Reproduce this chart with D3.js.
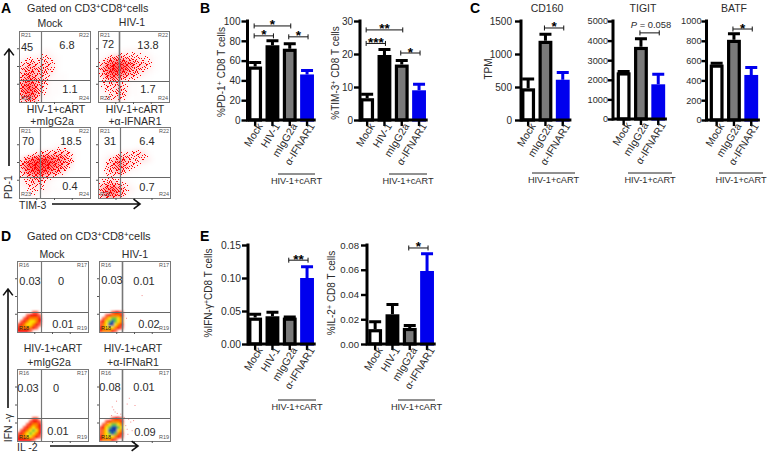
<!DOCTYPE html>
<html><head><meta charset="utf-8">
<style>html,body{margin:0;padding:0;background:#fff}svg{display:block}text{font-family:"Liberation Sans",Arial,sans-serif}</style>
<script src="https://cdnjs.cloudflare.com/ajax/libs/d3/7.8.5/d3.min.js"></script>
</head><body><svg id="c" width="768" height="454"></svg>
<script>
// ---------- data ----------
const cats4 = ["Mock","HIV-1","mIgG2a","α-IFNAR1"];
const cats3 = ["Mock","mIgG2a","α-IFNAR1"];
const pd1Values = [54,75.5,72,46];       const pd1Tops = [58,80,77,50];
const tim3Values = [6.6,19.7,16.8,9];    const tim3Tops = [7.8,21.4,18,10.8];
const cd160Values = [480,1200,610];      const cd160Tops = [620,1300,720];
const tigitValues = [2380,3680,1770];    const tigitTops = [2420,4100,2280];
const batfValues = [560,810,455];        const batfTops = [572,870,530];
const ifngValues = [.04,.042,.04,.1];    const ifngTops = [.045,.048,.041,.117];
const il2Values = [.012,.024,.013,.059]; const il2Tops = [.018,.032,.015,.073];
const pd1Ticks = [0,20,40,60,80,100];
const tim3Ticks = [0,10,20,30];
const cd160Ticks = [0,500,1000,1500];
const tigitTicks = [0,1000,2000,3000,4000,5000];
const batfTicks = [0,200,400,600,800,1000];
const ifngTicks = [0,.05,.1,.15];
const il2Ticks = [0,.02,.04,.06,.08];
// brackets: [fromCategory, toCategory, value, label]
const pd1Brackets = [[0,2,95,"*"],[0,1,85,"*"],[2,3,84,"*"]];
const tim3Brackets = [[0,2,27.3,"**"],[0,1,23.2,"***"],[2,3,20.3,"*"]];
const cd160Brackets = [[1,2,1394,"*"]];
const tigitBrackets = [[1,2,4394,""]];
const batfBrackets = [[1,2,919,"*"]];
const ifngBrackets = [[2,3,.127,"**"]];
const il2Brackets = [[2,3,.0776,"*"]];
// flow plots A: density read by eye, 12 columns x 12 rows (top row first), 0-9
const mockDensity = ["000000000000","000000000000","000000000000","000121000000","122232100000","344343100000","455443100000","465432110000","576431110000","687421100000","687321100000","466211000000"];
const hivDensity  = ["000000000000","000000000000","000000000000","000122221000","124543322100","368986443100","479985432100","368754321000","234321100000","233431100000","123431100000","123320100000"];
const cartDensity = ["000000000000","000000000000","000000000000","000001221000","002344553100","368998764100","589998753000","478986531000","234532110000","234321000000","123221100000","122110000000"];
const ifnarDensity= ["000000000000","000000000000","000000000000","000000110000","011233431000","124653332000","135753210000","134531100000","122100000000","345321000000","578632100000","467521000000"];
// flow plots D: colour level by cell in the lower-left corner, 8 columns
const dMockGrid = ["00000110","00012221","00123332","01234432","12344321","23333210","22221000"];
const dHivGrid  = ["00001221","00123332","01345543","12456543","13466432","23444321","23332100"];
const dCartGrid = ["00000110","00001221","00012332","00123432","01234542","12345432","23344321","22222100"];
const dIfnarGrid= ["00001221","00123332","01345543","12456654","13466643","13456532","23444321","23332100"];
const dIfnarStray = [[18,48],[22,41],[17,36],[39,52],[41,31],[44,27],[48,29],[37,22],[46,15],[39,17],[50,50],[24,56],[20,44],[25,39],[15,30],[42,60],[28,70],[30,38],[26,34],[35,33],[12,25],[40,10]];
const dHivStray = [[60,52],[38,20],[58,18]];
const quadA = [["45","6.8","1.1"],["72","13.8","1.7"],["70","18.5","0.4"],["31","6.4","0.7"]];
const quadD = [["0.03","0","0.01"],["0.03","0.01","0.02"],["0.03","0","0.01"],["0.08","0.01","0.09"]];
// stipple texture (irregular dither tile, 0-9), a drawing style for the red clouds
const ditherTile = ["3816402975163","0592738146028","7241960385714","4905317268390","1678249053627","9320586714159","5147093826403","8263715490271","0795428163586","6318950247932","2479136058614"];

// ---------- drawing ----------
const svg = d3.select("#c");
const INK = "#2b2b2b";
const defs = svg.append("defs");
defs.append("filter").attr("id","blurA").attr("x","-20%").attr("y","-20%").attr("width","140%").attr("height","140%").append("feGaussianBlur").attr("stdDeviation",2.2);
defs.append("filter").attr("id","blurD").attr("x","-20%").attr("y","-20%").attr("width","140%").attr("height","140%").append("feGaussianBlur").attr("stdDeviation",1);
const tile = defs.append("pattern").attr("id","dots").attr("width",13).attr("height",11).attr("patternUnits","userSpaceOnUse");
ditherTile.forEach((row,r)=>row.split("").forEach((c,i)=>{
  const v=Math.round(255*Math.pow(+c/9,3));
  tile.append("rect").attr("x",i).attr("y",r).attr("width",1).attr("height",1).attr("fill",`rgb(${v},${v},${v})`).attr("shape-rendering","crispEdges");
}));
defs.append("mask").attr("id","stip").attr("maskUnits","userSpaceOnUse").attr("x",0).attr("y",0).attr("width",768).attr("height",454)
  .append("rect").attr("width",768).attr("height",454).attr("fill","url(#dots)");
const th=defs.append("filter").attr("id","thresh").attr("color-interpolation-filters","sRGB").attr("x","0").attr("y","0").attr("width","100%").attr("height","100%");
th.append("feComponentTransfer").append("feFuncA").attr("type","discrete").attr("tableValues","0 0 0 1 1 1 1 1 1 1 1 1 1 1 1 1 1 1 1 1");
th.append("feGaussianBlur").attr("stdDeviation",.5);

function txt(x,y,s,o={}){
  const t = svg.append("text").attr("x",x).attr("y",y).attr("font-size",o.size||10).attr("fill",o.fill||INK)
    .attr("text-anchor",o.anchor||"middle").attr("font-weight",o.bold?"bold":null);
  if(o.rotate!=null) t.attr("transform",`rotate(${o.rotate},${x},${y})`);
  const parts = s.split(/(\^.)/);
  let shift=false;
  parts.filter(p=>p).forEach(p=>{
    const sup = p[0]==="^";
    const ts = t.append("tspan").text(sup?p[1]:p);
    if(sup){ts.attr("dy",-3.5).attr("font-size",(o.size||10)*.72);shift=true;}
    else if(shift){ts.attr("dy",3.5);shift=false;}
  });
  return t;
}
function arrow(x1,y1,x2,y2){
  const a=Math.atan2(y2-y1,x2-x1),L=8;
  svg.append("path").attr("fill","none").attr("stroke","#111").attr("stroke-width",1.6)
    .attr("d",d3.line()([[x1,y1],[x2,y2]])+d3.line()([[x2-L*Math.cos(a-.65),y2-L*Math.sin(a-.65)],[x2,y2],[x2-L*Math.cos(a+.65),y2-L*Math.sin(a+.65)]]));
}
function frame(b,names,gate){
  const g=svg.append("g");
  const x=d3.scaleLinear([0,100],[b.l,b.r]),y=d3.scaleLinear([0,100],[b.b,b.t]);
  g.append("rect").attr("x",b.l+.5).attr("y",b.t+.5).attr("width",b.r-b.l).attr("height",b.b-b.t).attr("fill","none").attr("stroke","#777");
  g.append("line").attr("x1",b.vg+.5).attr("x2",b.vg+.5).attr("y1",b.t).attr("y2",b.b).attr("stroke","#777").attr("stroke-width",gate);
  g.append("line").attr("x1",b.l).attr("x2",b.r).attr("y1",b.hg+.5).attr("y2",b.hg+.5).attr("stroke","#666");
  [25,50,75].forEach(v=>{
    g.append("line").attr("x1",x(v)).attr("x2",x(v)).attr("y1",b.b).attr("y2",b.b+2).attr("stroke","#555");
    g.append("line").attr("y1",y(v)).attr("y2",y(v)).attr("x1",b.l-2).attr("x2",b.l).attr("stroke","#555");
  });
  txt(b.l+7,b.t+6,names[0],{size:5.5,fill:"#555"});
  txt(b.r-6,b.t+6,names[1],{size:5.5,fill:"#555"});
  txt(b.r-6,b.b-2,names[2],{size:5.5,fill:"#555"});
  return {x,y};
}
function cloud(b,grid){
  const x=d3.scaleLinear([0,12],[b.l,b.r]),y=d3.scaleLinear([0,12],[b.t,b.b]);
  const cp="cp"+b.l+"_"+b.t;
  defs.append("clipPath").attr("id",cp).append("rect").attr("x",b.l).attr("y",b.t).attr("width",b.r-b.l).attr("height",b.b-b.t);
  const clip=svg.append("g").attr("clip-path",`url(#${cp})`);
  const draw=(g,op)=>grid.forEach((row,r)=>row.split("").forEach((c,i)=>{
    if(+c) g.append("rect").attr("x",x(i)).attr("y",y(r)).attr("width",x(1)-x(0)+.5).attr("height",y(1)-y(0)+.5).attr("fill","#f00").attr("opacity",op(+c));
  }));
  // soft pink base under the dots, as in the blurred reference
  draw(clip.append("g").attr("filter","url(#blurA)"),c=>.6*Math.pow(c/9,1.8));
  draw(clip.append("g").attr("filter","url(#thresh)").append("g").attr("mask","url(#stip)").append("g").attr("filter","url(#blurA)"),c=>Math.pow(c/9,1.3));
}
const heat=d3.scaleOrdinal([1,2,3,4,5,6],["#ff5a3c","#f50000","#ff7d00","#ffe000","#5cc83a","#123fa8"]);
function corner(b,grid,stray){
  const n=grid.length,cell=3;
  const x=d3.scaleLinear([0,8],[b.l,b.l+8*cell]),y=d3.scaleLinear([0,n],[b.b-n*cell,b.b]);
  const cp="cq"+b.l+"_"+b.t;
  defs.append("clipPath").attr("id",cp).append("rect").attr("x",b.l).attr("y",b.t).attr("width",b.r-b.l).attr("height",b.b-b.t);
  const g=svg.append("g").attr("clip-path",`url(#${cp})`).append("g").attr("filter","url(#blurD)");
  grid.forEach((row,r)=>row.split("").forEach((c,i)=>{
    if(+c) g.append("rect").attr("x",x(i)).attr("y",y(r)).attr("width",cell+.4).attr("height",cell+.4).attr("fill",heat(+c));
  }));
  if(stray){
    const sx=d3.scaleLinear([0,100],[b.l,b.r]),sy=d3.scaleLinear([0,100],[b.b,b.t]);
    svg.append("g").selectAll("rect").data(stray).join("rect").attr("x",d=>sx(d[0])).attr("y",d=>sy(d[1])).attr("width",1).attr("height",1).attr("fill","#f58a8a");
  }
}
function barPanel(p){
  const g=svg.append("g");
  const n=p.cats.length;
  const x=d3.scaleBand().domain(p.cats).range([p.x0,p.x0+n*p.step]).paddingInner(.2).paddingOuter(.1);
  const top=p.ticks[p.ticks.length-1];
  const y=d3.scaleLinear([0,top],[p.y0,p.y1]);
  const fills=p.cats.map(c=>({"Mock":"#fff","HIV-1":"#000","mIgG2a":"#7a7a7a","α-IFNAR1":"#0000ee"}[c]));
  const strokes=p.cats.map(c=>c==="α-IFNAR1"?"#0000ee":"#000");
  const cx=c=>x(c)+x.bandwidth()/2;
  g.selectAll(".e").data(p.cats).join("path").attr("fill","none")
    .attr("stroke",(d,i)=>strokes[i]).attr("stroke-width",3)
    .attr("d",(d,i)=>d3.line()([[cx(d),y(p.values[i])],[cx(d),y(p.tops[i])]])+d3.line()([[cx(d)-6,y(p.tops[i])],[cx(d)+6,y(p.tops[i])]]));
  g.selectAll(".b").data(p.cats).join("rect")
    .attr("x",d=>x(d)+1.6).attr("width",x.bandwidth()-3.2)
    .attr("y",(d,i)=>y(p.values[i])+1.6).attr("height",(d,i)=>Math.max(0,p.y0-y(p.values[i])-1.6))
    .attr("fill",(d,i)=>fills[i]).attr("stroke",(d,i)=>strokes[i]).attr("stroke-width",3.2);
  const ya=g.append("g").attr("transform",`translate(${p.axisX},0)`)
    .call(d3.axisLeft(y).tickValues(p.ticks).tickSize(p.tickLen||6).tickPadding(p.pad==null?1:p.pad).tickFormat(p.fmt||(d=>d)));
  const xa=g.append("g").attr("transform",`translate(0,${p.y0})`)
    .call(d3.axisBottom(x).tickSize(6).tickSizeOuter(0).tickPadding(2));
  ya.select(".domain").attr("stroke","#000").attr("stroke-width",3).attr("d",`M0,${p.y0+1.5}V${p.y1-1.5}`);
  xa.select(".domain").attr("stroke","#000").attr("stroke-width",3).attr("d",`M${p.axisX},0H${p.x0+n*p.step}`);
  ya.selectAll(".tick line").attr("stroke","#000").attr("stroke-width",2.4);
  xa.selectAll(".tick line").attr("stroke","#000").attr("stroke-width",2.4);
  ya.selectAll("text").attr("font-size",p.tickFont||10).attr("fill",INK).attr("font-family",'"Liberation Sans"');
  xa.selectAll("text").attr("font-size",10.5).attr("fill",INK).attr("font-family",'"Liberation Sans"')
    .attr("text-anchor","end").attr("dx",-1).attr("dy",2).attr("transform","rotate(-58)");
  p.brackets.forEach(b=>{
    const a=cx(p.cats[b[0]])-1,e=cx(p.cats[b[1]])+1,v=y(b[2]);
    g.append("path").attr("fill","none").attr("stroke","#111").attr("stroke-width",1)
      .attr("d",`M${a},${v-2.5}V${v+2.5}M${a},${v}H${e}M${e},${v-2.5}V${v+2.5}`);
    if(b[3]) txt((a+e)/2,v+3.5,b[3],{size:13.5,bold:true,fill:"#000"});
  });
  g.append("line").attr("x1",p.lx[0]).attr("x2",p.lx[1]).attr("y1",p.ly).attr("y2",p.ly).attr("stroke","#222");
  txt((p.lx[0]+p.lx[1])/2,p.ly+10,"HIV-1+cART",{size:9.2});
  if(p.ytitle) txt(p.tx,p.ty,p.ytitle,{size:10,rotate:-90});
  if(p.title) txt(p.titleX,12,p.title,{size:10.5});
}

[["A",1,13],["B",200,13],["C",470,13],["D",1,241],["E",200,241]].forEach(d=>txt(d[1],d[2],d[0],{size:14,bold:true,anchor:"start",fill:"#000"}));

// panel A
txt(27,12,"Gated on CD3^+CD8^+cells",{size:10.8,anchor:"start"});
const boxesA=[{l:19,r:90,t:31,b:102,vg:41,hg:80},{l:98,r:169,t:31,b:102,vg:119,hg:81},{l:19,r:90,t:127,b:198,vg:40,hg:177},{l:98,r:170,t:127,b:198,vg:120,hg:177}];
[mockDensity,hivDensity,cartDensity,ifnarDensity].forEach((grid,i)=>cloud(boxesA[i],grid));
boxesA.forEach((b,i)=>{frame(b,["R21","R22","R24"],i===1?1.6:1.2);txt(b.l+7,b.b-2,"R23",{size:5.5,fill:"#555"});});
[[27,51,67,49,70,93],[108,48,148,49,148,93],[28,145,71,145,70,190],[110,145,147,145,147,191]].forEach((q,i)=>{
  txt(q[0],q[1],quadA[i][0],{size:11});txt(q[2],q[3],quadA[i][1],{size:11});txt(q[4],q[5],quadA[i][2],{size:11});
});
[["Mock",50,27],["HIV-1",132,26],["HIV-1+cART",56,113],["+mIgG2a",52,125],["HIV-1+cART",135,113],["+α-IFNAR1",135,125]].forEach(d=>txt(d[1],d[2],d[0],{size:10.5}));
txt(12,187,"PD-1",{size:10.5,rotate:-90});
arrow(9,166,9,49);
txt(19,209,"TIM-3",{size:10.5,anchor:"start"});
arrow(52,204,140,204);

// panel D
txt(27,240,"Gated on CD3^+CD8^+cells",{size:11,anchor:"start"});
const boxesD=[{l:17,r:88,t:261,b:332,vg:41,hg:312},{l:99,r:170,t:261,b:332,vg:122,hg:312},{l:17,r:88,t:369,b:441,vg:41,hg:418},{l:99,r:170,t:369,b:441,vg:122,hg:418}];
corner(boxesD[0],dMockGrid);corner(boxesD[1],dHivGrid,dHivStray);corner(boxesD[2],dCartGrid);corner(boxesD[3],dIfnarGrid,dIfnarStray);
boxesD.forEach((b,i)=>{frame(b,["R16","R17","R19"],i%2?1.6:1.2);txt(b.l+7,b.b-2,"R18",{size:5.5,fill:"#222"});});
[[30,285,61,285,63,328],[112,284,144,285,149,328],[28,392,56,392,58,435],[110,391,144,391,145,436]].forEach((q,i)=>{
  txt(q[0],q[1],quadD[i][0],{size:11});txt(q[2],q[3],quadD[i][1],{size:11});txt(q[4],q[5],quadD[i][2],{size:11});
});
[["Mock",52,258],["HIV-1",135,258],["HIV-1+cART",53,352],["+mIgG2a",49,366],["HIV-1+cART",133,352],["+α-IFNaR1",133,366]].forEach(d=>txt(d[1],d[2],d[0],{size:10.5}));
txt(12,428,"IFN -γ",{size:10.5,rotate:-90});
arrow(8,408,8,289);
txt(17,451,"IL -2",{size:10.5,anchor:"start"});
arrow(50,446,138,446);

// bar panels
const f2=d3.format(".2f");
barPanel({cats:cats4,values:pd1Values,tops:pd1Tops,ticks:pd1Ticks,brackets:pd1Brackets,axisX:247.5,x0:246.5,step:17.3,y0:120,y1:21,lx:[278,315],ly:174,ytitle:"%PD-1^+ CD8 T cells",tx:225,ty:72});
barPanel({cats:cats4,values:tim3Values,tops:tim3Tops,ticks:tim3Ticks,brackets:tim3Brackets,axisX:360,x0:358.5,step:17.3,y0:120,y1:21,lx:[389,427],ly:174,ytitle:"%TIM-3^+ CD8 T cells",tx:339,ty:73});
barPanel({cats:cats3,values:cd160Values,tops:cd160Tops,ticks:cd160Ticks,pad:3,brackets:cd160Brackets,axisX:521,x0:519.5,step:17.3,y0:120,y1:21,lx:[532,575],ly:173,ytitle:"TPM",tx:492,ty:69,title:"CD160",titleX:547});
barPanel({cats:cats3,values:tigitValues,tops:tigitTops,ticks:tigitTicks,tickLen:5,pad:0,tickFont:9.2,brackets:tigitBrackets,axisX:613,x0:615,step:17.3,y0:119,y1:21,lx:[628,672],ly:173,title:"TIGIT",titleX:643});
barPanel({cats:cats3,values:batfValues,tops:batfTops,ticks:batfTicks,tickLen:5,pad:0,tickFont:9.2,brackets:batfBrackets,axisX:706.5,x0:708,step:17.3,y0:120,y1:21,lx:[719,763],ly:173,title:"BATF",titleX:734});
barPanel({cats:cats4,values:ifngValues,tops:ifngTops,ticks:ifngTicks,fmt:f2,pad:1,tickFont:10.3,brackets:ifngBrackets,axisX:248,x0:246.5,step:17.3,y0:344,y1:245,lx:[278,316],ly:400,ytitle:"%IFN-γ^+CD8 T cells",tx:212,ty:293});
barPanel({cats:cats4,values:il2Values,tops:il2Tops,ticks:il2Ticks,fmt:f2,pad:2,tickFont:9.6,brackets:il2Brackets,axisX:367,x0:366.5,step:17.3,y0:344,y1:245,lx:[398,435],ly:400,ytitle:"%IL-2^+ CD8 T cells",tx:335,ty:293});
const pLab=txt(651,28,"",{size:9.4});
pLab.append("tspan").attr("font-style","italic").text("P");
pLab.append("tspan").text(" = 0.058");
</script></body></html>
